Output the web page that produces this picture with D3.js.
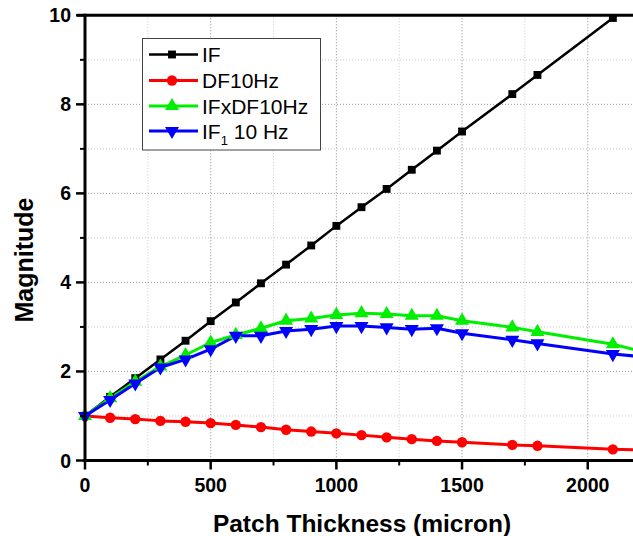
<!DOCTYPE html>
<html>
<head>
<meta charset="utf-8">
<script src="https://cdn.jsdelivr.net/npm/d3@7.9.0/dist/d3.min.js"></script>
<style>
  body { margin: 0; background: #fff; }
  svg { display: block; font-family: "Liberation Sans", Arial, sans-serif; }
  .tick-label { font-weight: bold; font-size: 19.5px; fill: #000; }
  .axis-title { font-weight: bold; fill: #000; }
  .legend-text { font-size: 21px; fill: #000; }
</style>
</head>
<body>
<svg width="633" height="536"></svg>
<script>
// thickness in micron
const thickness = [0, 100, 200, 300, 400, 500, 600, 700, 800, 900, 1000, 1100, 1200, 1300, 1400, 1500, 1700, 1800, 2100, 2400];
const ifValues = [1.0, 1.43, 1.85, 2.27, 2.69, 3.13, 3.55, 3.98, 4.40, 4.83, 5.27, 5.69, 6.10, 6.53, 6.96, 7.39, 8.23, 8.66, 9.94, 11.2];
const df10Values = [1.0, 0.96, 0.93, 0.89, 0.87, 0.84, 0.80, 0.75, 0.69, 0.65, 0.61, 0.57, 0.52, 0.48, 0.44, 0.41, 0.35, 0.33, 0.25, 0.21];
const ifxdfValues = [1.0, 1.40, 1.77, 2.11, 2.37, 2.65, 2.82, 2.97, 3.14, 3.19, 3.27, 3.31, 3.29, 3.25, 3.25, 3.14, 2.99, 2.89, 2.61, 2.20];
const if1Values = [1.0, 1.36, 1.73, 2.09, 2.27, 2.50, 2.80, 2.80, 2.91, 2.95, 3.02, 3.02, 2.99, 2.95, 2.97, 2.86, 2.71, 2.63, 2.39, 2.24];

const xTicks = [0, 500, 1000, 1500, 2000];
const xMinor = [250, 750, 1250, 1750, 2250];
const yTicks = [0, 2, 4, 6, 8, 10];
const yMinor = [1, 3, 5, 7, 9];

const series = [
  { name: 'IF', values: ifValues, color: '#000000', symbol: d3.symbolSquare, size: 62, width: 2.5 },
  { name: 'DF10Hz', values: df10Values, color: '#ff0000', symbol: d3.symbolCircle, size: 85, width: 3 },
  { name: 'IFxDF10Hz', values: ifxdfValues, color: '#00ee00', symbol: d3.symbolTriangle, size: 85, width: 3 },
  { name: 'IF1 10 Hz', values: if1Values, color: '#0000ff', symbol: 'down', size: 85, width: 3 }
];

const svg = d3.select('svg');
const plotLeft = 85, plotRight = 638, plotTop = 15.3, plotBottom = 460.5;

const x = d3.scaleLinear().domain([0, 2200]).range([plotLeft, plotRight]);
const y = d3.scaleLinear().domain([0, 10]).range([plotBottom, plotTop]);

// grid
const grid = svg.append('g');
grid.selectAll('.gx-minor').data(xMinor).join('line')
  .attr('x1', d => x(d)).attr('x2', d => x(d)).attr('y1', plotTop).attr('y2', plotBottom)
  .attr('stroke', '#c8c8c8').attr('stroke-width', 1).attr('stroke-dasharray', '1,2');
grid.selectAll('.gx-major').data(xTicks.slice(1)).join('line')
  .attr('x1', d => x(d)).attr('x2', d => x(d)).attr('y1', plotTop).attr('y2', plotBottom)
  .attr('stroke', '#888').attr('stroke-width', 1).attr('stroke-dasharray', '1,2');
grid.selectAll('.gy-minor').data(yMinor).join('line')
  .attr('y1', d => y(d)).attr('y2', d => y(d)).attr('x1', plotLeft).attr('x2', 633)
  .attr('stroke', '#c8c8c8').attr('stroke-width', 1).attr('stroke-dasharray', '1,2');
grid.selectAll('.gy-major').data(yTicks.slice(1, -1)).join('line')
  .attr('y1', d => y(d)).attr('y2', d => y(d)).attr('x1', plotLeft).attr('x2', 633)
  .attr('stroke', '#999').attr('stroke-width', 1).attr('stroke-dasharray', '1,2');

// data
svg.append('clipPath').attr('id', 'plot-clip')
  .append('rect').attr('x', plotLeft - 10).attr('y', plotTop)
  .attr('width', plotRight - plotLeft + 10).attr('height', plotBottom - plotTop + 10);

const line = d3.line().x((d, i) => x(thickness[i])).y(d => y(d));
const dataG = svg.append('g');

series.forEach(s => {
  dataG.append('path')
    .attr('d', line(s.values))
    .attr('fill', 'none')
    .attr('stroke', s.color)
    .attr('stroke-width', s.width)
    .attr('stroke-linejoin', 'round')
    .attr('clip-path', 'url(#plot-clip)');
});

function symbolPath(s) {
  if (s.symbol === 'down') return d3.symbol(d3.symbolTriangle, s.size)();
  return d3.symbol(s.symbol, s.size)();
}

series.forEach(s => {
  dataG.selectAll(null).data(s.values.filter(v => v <= 10.1))
    .join('path')
    .attr('d', symbolPath(s))
    .attr('fill', s.color)
    .attr('transform', (d, i) => `translate(${x(thickness[i])},${y(d)})` + (s.symbol === 'down' ? ' rotate(180)' : ''));
});

// axes
const axG = svg.append('g');
axG.append('line').attr('x1', plotLeft).attr('x2', plotLeft).attr('y1', plotTop - 1.5).attr('y2', plotBottom + 1.5)
  .attr('stroke', '#000').attr('stroke-width', 3);
axG.append('line').attr('x1', plotLeft - 1.5).attr('x2', 633).attr('y1', plotBottom).attr('y2', plotBottom)
  .attr('stroke', '#000').attr('stroke-width', 3);
axG.append('line').attr('x1', plotLeft - 8).attr('x2', 633).attr('y1', plotTop).attr('y2', plotTop)
  .attr('stroke', '#000').attr('stroke-width', 3);

axG.selectAll('.xt').data(xTicks).join('line')
  .attr('x1', d => x(d)).attr('x2', d => x(d)).attr('y1', plotBottom).attr('y2', plotBottom + 9)
  .attr('stroke', '#000').attr('stroke-width', 2.5);
axG.selectAll('.xm').data(xMinor).join('line')
  .attr('x1', d => x(d)).attr('x2', d => x(d)).attr('y1', plotBottom).attr('y2', plotBottom + 5)
  .attr('stroke', '#000').attr('stroke-width', 2);
axG.selectAll('.yt').data(yTicks).join('line')
  .attr('y1', d => y(d)).attr('y2', d => y(d)).attr('x1', plotLeft - 9).attr('x2', plotLeft)
  .attr('stroke', '#000').attr('stroke-width', 2.5);
axG.selectAll('.ym').data(yMinor).join('line')
  .attr('y1', d => y(d)).attr('y2', d => y(d)).attr('x1', plotLeft - 5).attr('x2', plotLeft)
  .attr('stroke', '#000').attr('stroke-width', 2);

axG.selectAll('.xl').data(xTicks).join('text')
  .attr('class', 'tick-label')
  .attr('x', d => x(d)).attr('y', 492)
  .attr('text-anchor', 'middle')
  .text(d => d);
axG.selectAll('.yl').data(yTicks).join('text')
  .attr('class', 'tick-label')
  .attr('x', 71).attr('y', d => y(d) + 7)
  .attr('text-anchor', 'end')
  .text(d => d);

svg.append('text').attr('class', 'axis-title')
  .attr('font-size', 24.5)
  .attr('x', 362).attr('y', 532).attr('text-anchor', 'middle')
  .text('Patch Thickness (micron)');
svg.append('text').attr('class', 'axis-title')
  .attr('font-size', 25)
  .attr('transform', 'translate(33,260) rotate(-90)').attr('text-anchor', 'middle')
  .text('Magnitude');

// legend
const lg = svg.append('g');
lg.append('rect').attr('x', 142.5).attr('y', 38.5).attr('width', 178).attr('height', 111.5)
  .attr('fill', '#fff').attr('stroke', '#444').attr('stroke-width', 1);
const rowY = [54.5, 80.5, 106, 131];
series.forEach((s, i) => {
  const g = lg.append('g').attr('transform', `translate(0,${rowY[i]})`);
  g.append('line').attr('x1', 149).attr('x2', 198).attr('y1', 0).attr('y2', 0)
    .attr('stroke', s.color).attr('stroke-width', s.width);
  g.append('path').attr('d', symbolPath(s)).attr('fill', s.color)
    .attr('transform', `translate(172,0)` + (s.symbol === 'down' ? ' rotate(180)' : ''));
  const t = g.append('text').attr('class', 'legend-text').attr('x', 202).attr('y', 7.5);
  if (i === 3) {
    t.append('tspan').text('IF');
    t.append('tspan').attr('font-size', 13).attr('dy', 6).text('1');
    t.append('tspan').attr('dy', -6).text(' 10 Hz');
  } else {
    t.text(s.name);
  }
});
</script>
</body>
</html>
